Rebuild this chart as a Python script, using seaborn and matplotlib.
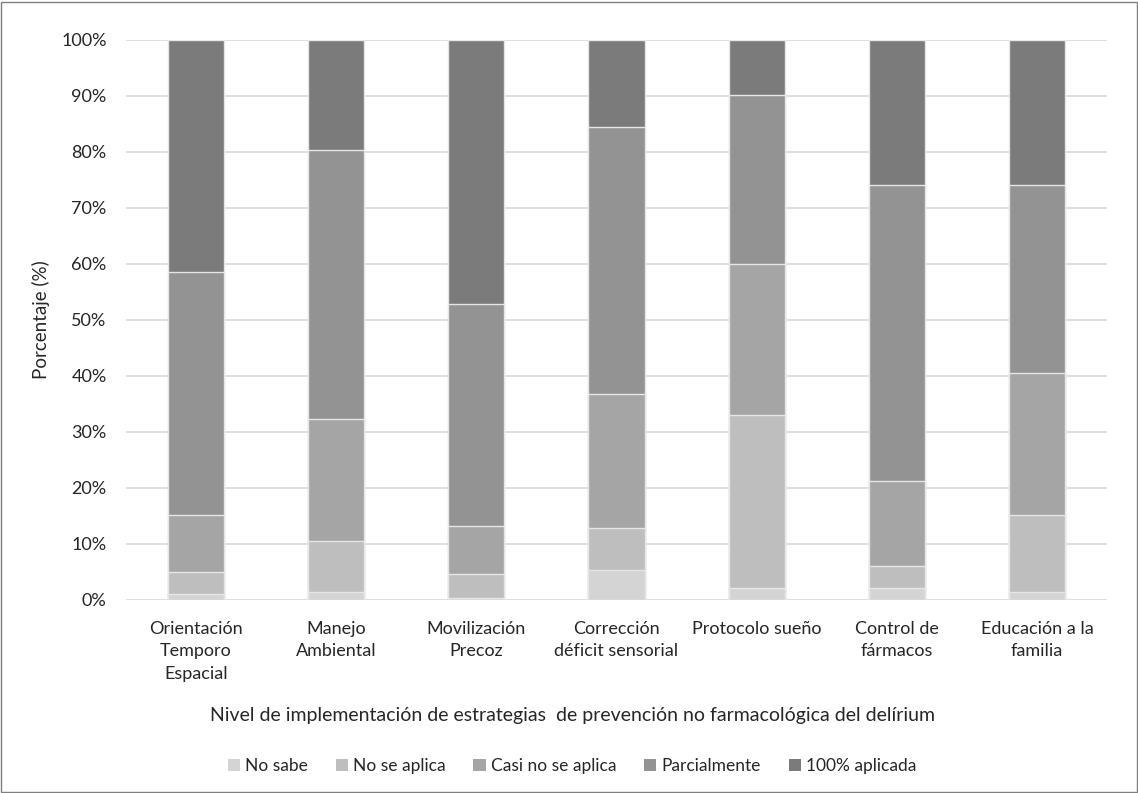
import matplotlib
matplotlib.use("Agg")
import matplotlib.pyplot as plt
from matplotlib.patches import Patch, Rectangle
from matplotlib.ticker import PercentFormatter
import numpy as np
import pandas as pd
import seaborn as sns

categories = [
    "Orientación\nTemporo\nEspacial",
    "Manejo\nAmbiental",
    "Movilización\nPrecoz",
    "Corrección\ndéficit sensorial",
    "Protocolo sueño",
    "Control de\nfármacos",
    "Educación a la\nfamilia",
]
levels = ["No sabe", "No se aplica", "Casi no se aplica", "Parcialmente", "100% aplicada"]

no_sabe = [1.0, 1.5, 0.4, 5.3, 2.1, 2.1, 1.5]
no_se_aplica = [4.0, 9.0, 4.2, 7.6, 31.0, 4.0, 13.7]
casi_no_se_aplica = [10.2, 21.9, 8.7, 23.9, 26.9, 15.1, 25.4]
parcialmente = [43.4, 47.9, 39.6, 47.7, 30.2, 52.9, 33.5]
aplicada_100 = [41.4, 19.7, 47.1, 15.5, 9.8, 25.9, 25.9]

colors = ["#d4d4d4", "#bebebe", "#a5a5a5", "#939393", "#7b7b7b"]

sns.set_theme(style="whitegrid")
plt.rcParams["font.family"] = ["Lato", "DejaVu Sans"]

series = [no_sabe, no_se_aplica, casi_no_se_aplica, parcialmente, aplicada_100]
df = pd.DataFrame({lvl: vals for lvl, vals in zip(levels, series)}, index=categories)
cum = df.cumsum(axis=1)

fig = plt.figure(figsize=(11.38, 7.93), dpi=100)
ax = fig.add_axes([126 / 1138, 193 / 793, 981 / 1138, 560 / 793])

# Stacked bars: draw cumulative totals from the top layer down
for lvl, col in reversed(list(zip(levels, colors))):
    sns.barplot(x=list(cum.index), y=cum[lvl].values, color=col, width=0.4,
                edgecolor="#e6e6e6", linewidth=1.0, ax=ax, saturation=1)

ax.set_ylim(0, 100)
ax.set_xlim(-0.5, len(categories) - 0.5)
ax.yaxis.set_major_locator(plt.MultipleLocator(10))
ax.yaxis.set_major_formatter(PercentFormatter(decimals=0))
ax.grid(axis="y", color="#d9d9d9", linewidth=1.2)
ax.grid(axis="x", visible=False)
ax.set_axisbelow(True)
for s in ax.spines.values():
    s.set_visible(False)
ax.tick_params(axis="both", length=0, labelsize=13, colors="#262626")
ax.tick_params(axis="y", pad=14)
ax.tick_params(axis="x", pad=15)
for lab in ax.get_xticklabels():
    lab.set_linespacing(1.5)

ax.set_ylabel("Porcentaje (%)", fontsize=13.5, color="#262626", labelpad=8)
ax.set_xlabel("Nivel de implementación de estrategias  de prevención no farmacológica del delírium",
              fontsize=14, color="#262626")
ax.xaxis.set_label_coords((572 - 126) / 981, -(716 - 600) / 560, transform=ax.transAxes)
ax.xaxis.label.set_va("center")

handles = [Patch(facecolor=c, edgecolor="none", label=l) for l, c in zip(levels, colors)]
fig.legend(handles=handles, loc="center", bbox_to_anchor=(572 / 1138, 1 - 766 / 793),
           ncol=5, frameon=False, fontsize=12.5, handlelength=0.7, handleheight=0.7,
           handletextpad=0.3, columnspacing=1.6, labelcolor="#262626")

fig.patches.append(Rectangle((0.001, 0.001), 0.998, 0.997, transform=fig.transFigure,
                             fill=False, edgecolor="#7f7f7f", linewidth=1))

fig.savefig("out.png", dpi=100, facecolor="white")
